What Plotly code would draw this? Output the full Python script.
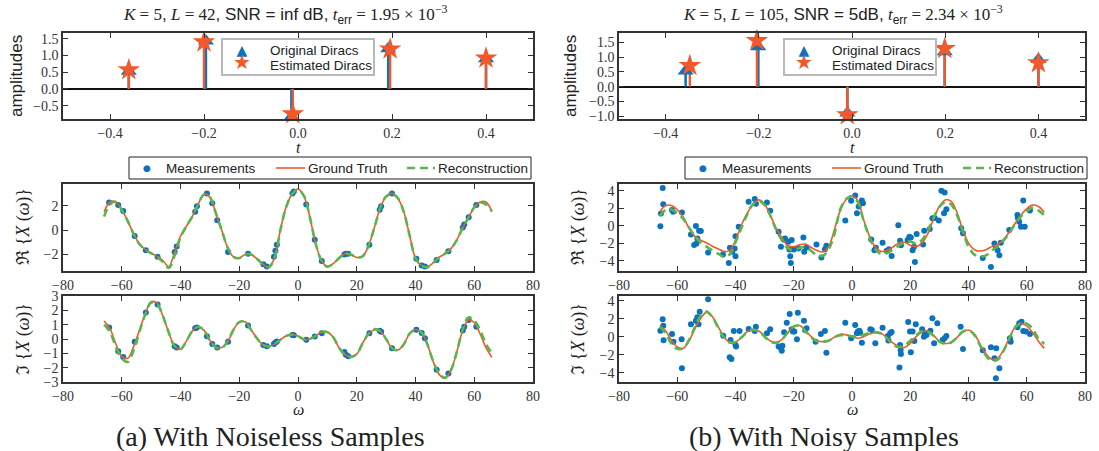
import plotly.graph_objects as go

W, H = 1099, 451
BLUE = '#0b72bd'
ORANGE = '#f2592a'
GREEN = '#5ab54b'
SERIF = 'Liberation Serif'
SANS = 'Liberation Sans'

# ---------------- Dirac data ----------------
t_orig_a = [-0.360, -0.196, -0.014, 0.192, 0.400]
amp_orig_a = [0.53, 1.43, -0.83, 1.20, 0.90]
t_est_a = [-0.360, -0.200, -0.011, 0.196, 0.400]
amp_est_a = [0.57, 1.40, -0.75, 1.19, 0.92]

t_orig_b = [-0.357, -0.201, -0.010, 0.199, 0.400]
amp_orig_b = [0.53, 1.35, -0.89, 1.18, 0.92]
t_est_b = [-0.348, -0.204, -0.010, 0.199, 0.400]
amp_est_b = [0.71, 1.55, -0.95, 1.28, 0.80]

# ---------------- frequency grid for curves ----------------
w_grid = [-66, -64, -62, -60, -58, -56, -54, -52, -50, -48, -46, -44, -42, -40,
          -38, -36, -34, -32, -30, -28, -26, -24, -22, -20, -18, -16, -14, -12,
          -10, -8, -6, -4, -2, 0, 2, 4, 6, 8, 10, 12, 14, 16, 18, 20, 22, 24, 26,
          28, 30, 32, 34, 36, 38, 40, 42, 44, 46, 48, 50, 52, 54, 56, 58, 60, 62,
          64, 66]

# (a) noiseless
gt_re_a = [1.50, 2.30, 2.30, 1.65, 0.75, -0.30, -1.15, -1.60, -1.90, -2.15, -2.50, -3.00, -1.80, -0.50,
           0.30, 1.10, 2.10, 2.95, 2.70, 1.40, 0.00, -1.40, -2.20, -2.30, -2.00, -2.00, -2.35, -2.80,
           -3.05, -2.30, 0.00, 1.90, 2.95, 3.35, 2.80, 1.10, -1.10, -2.50, -3.00, -2.75, -2.30, -1.95, -2.00, -2.25, -2.15, -1.30, 0.20,
           1.80, 2.75, 3.00, 2.60, 1.50, -0.45, -2.30, -2.90, -3.00, -2.70, -2.25, -1.95, -1.55, -0.85, 0.15, 1.00, 1.85, 2.30,
           2.30, 1.50]
rc_re_a = [1.10, 2.10, 2.30, 1.65, 0.75, -0.30, -1.15, -1.60, -1.90, -2.20, -2.60, -3.10, -2.10, -0.60,
           0.30, 1.10, 2.10, 2.90, 2.70, 1.40, 0.00, -1.40, -2.20, -2.30, -2.00, -2.00, -2.35, -2.80,
           -3.05, -2.30, 0.00, 1.90, 2.95, 3.30, 2.80, 1.10, -1.10, -2.50, -3.00, -2.75, -2.30, -1.95, -2.00, -2.25, -2.15, -1.30, 0.20,
           1.80, 2.75, 2.95, 2.60, 1.50, -0.45, -2.30, -2.90, -3.05, -2.70, -2.25, -1.95, -1.55, -0.85, 0.15, 1.00, 1.85, 2.25,
           2.10, 1.55]
gt_im_a = [1.26, 0.72, -0.35, -1.20, -1.35, -0.55, 0.60, 1.75, 2.60, 2.50, 1.60, 0.45, -0.50, -0.70,
           -0.15, 0.55, 0.85, 0.60, -0.10, -0.55, -0.60, -0.20, 0.63, 1.18, 1.20, 0.65, 0.05, -0.40,
           -0.52, -0.35, -0.05, 0.22, 0.30, 0.21, -0.03, 0.00, 0.22, 0.48, 0.48, 0.12, -0.62, -1.08, -1.25, -1.05, -0.30, 0.35, 0.65,
           0.55, 0.00, -0.65, -0.78, -0.38, 0.38, 0.65, 0.45, -0.35, -1.55, -2.45, -2.75, -2.20, -0.95, 0.55, 1.33, 1.15, 0.35,
           -0.60, -1.28]
rc_im_a = [1.00, 0.50, -0.55, -1.35, -1.60, -0.80, 0.50, 1.70, 2.55, 2.45, 1.60, 0.45, -0.50, -0.72,
           -0.15, 0.55, 0.85, 0.60, -0.10, -0.58, -0.62, -0.20, 0.63, 1.18, 1.20, 0.65, 0.05, -0.40,
           -0.52, -0.35, -0.05, 0.22, 0.30, 0.21, -0.03, 0.00, 0.22, 0.48, 0.48, 0.12, -0.62, -1.08, -1.25, -1.05, -0.30, 0.35, 0.68,
           0.55, 0.00, -0.65, -0.78, -0.38, 0.38, 0.65, 0.45, -0.35, -1.55, -2.40, -2.70, -2.20, -0.95, 0.60, 1.50, 1.30, 0.60,
           -0.35, -1.00]

meas_w_a = [-64.3, -61.2, -59.5, -55.6, -51.8, -47.8, -42.0, -41.3, -35.0, -34.4, -31.0, -29.2, -27.5, -23.8,
            -17.0, -11.8, -10.6, -8.2, -7.7, -7.2, -1.9, -1.4, 2.8, 5.7, 8.1, 15.8, 16.3, 17.1, 24.3, 27.8,
            28.3, 32.0, 40.3, 42.1, 43.2, 47.2, 51.2, 56.1, 56.6, 58.1, 60.7]
meas_re_a = [2.25, 2.05, 1.55, -0.50, -1.65, -2.20, -1.80, -1.35, 1.50, 1.95, 3.00, 2.20, 0.80, -1.80,
             -1.95, -2.80, -3.00, -2.20, -1.70, -1.20, 3.00, 3.15, 2.10, -0.80, -2.55, -2.00, -1.95, -1.95, -1.20, 1.65,
             1.95, 3.00, -2.35, -2.90, -3.00, -2.45, -1.75, 0.20, 0.45, 1.05, 2.05]
meas_im_a = [0.80, -0.85, -1.25, -0.20, 1.85, 2.40, -0.50, -0.60, 0.75, 0.80, 0.20, -0.35, -0.60, -0.20,
             0.95, -0.42, -0.50, -0.35, -0.25, -0.18, 0.28, 0.27, -0.05, 0.18, 0.40, -0.90, -1.10, -1.20, 0.40, 0.57,
             0.50, -0.65, 0.65, 0.42, 0.05, -2.15, -2.40, 0.60, 0.85, 1.33, 0.85]

# (b) noisy
gt_re_b = [1.55, 2.30, 2.30, 1.85, 1.00, -0.25, -1.20, -1.65, -1.95, -2.35, -2.65, -2.95, -2.85, -1.65,
           0.05, 1.40, 2.45, 2.95, 2.45, 1.15, -0.30, -1.40, -2.30, -2.40, -2.20, -2.10, -2.50, -2.85,
           -3.00, -2.40, -0.40, 1.75, 3.00, 3.42, 2.85, 0.65, -1.20, -2.45, -2.95, -2.85, -2.45, -2.00, -1.90, -2.25, -2.40, -2.00, -0.95,
           0.75, 2.20, 2.95, 2.80, 1.55, -0.45, -2.00, -2.75, -2.90, -2.75, -2.40, -2.15, -1.60, -0.75, 0.25, 1.20, 1.95, 2.35,
           2.20, 1.55]
rc_re_b = [1.10, 1.80, 1.85, 1.45, 0.80, -0.20, -1.20, -1.90, -2.40, -2.80, -3.20, -3.55, -3.30, -1.90,
           -0.30, 1.30, 2.45, 2.85, 2.35, 1.10, -0.50, -1.70, -2.60, -2.80, -2.55, -2.45, -2.90, -3.40,
           -3.45, -2.70, -0.90, 1.90, 3.05, 3.35, 2.70, 0.55, -1.30, -2.70, -3.25, -3.15, -2.75, -2.30, -1.90, -1.80, -2.05, -1.65, -0.60,
           0.90, 2.15, 2.70, 2.45, 1.25, -0.60, -2.40, -3.30, -3.55, -3.40, -2.85, -2.35, -1.70, -0.85, 0.20, 1.05, 1.65, 2.05,
           1.75, 1.20]
gt_im_b = [1.22, 0.65, -0.40, -1.15, -1.30, -0.50, 0.85, 2.00, 2.70, 2.25, 1.15, 0.00, -0.60, -0.60,
           -0.10, 0.56, 0.80, 0.63, 0.05, -0.48, -0.63, -0.30, 0.45, 1.10, 1.25, 0.70, 0.00, -0.45,
           -0.55, -0.45, -0.05, 0.27, 0.20, 0.00, -0.17, 0.00, 0.30, 0.45, 0.35, -0.10, -0.70, -1.10, -1.20, -0.75, 0.00, 0.50, 0.62,
           0.15, -0.50, -0.75, -0.65, -0.10, 0.52, 0.74, 0.28, -0.85, -1.90, -2.50, -2.40, -1.50, -0.15, 1.05, 1.48, 1.20, 0.45,
           -0.50, -1.30]
rc_im_b = [1.10, 0.40, -0.80, -1.35, -1.30, -0.40, 1.00, 2.30, 2.80, 2.20, 1.05, -0.05, -0.65, -0.60,
           -0.10, 0.50, 0.75, 0.60, 0.00, -0.55, -0.70, -0.30, 0.50, 1.15, 1.20, 0.60, -0.10, -0.50,
           -0.55, -0.45, -0.05, 0.15, 0.15, 0.05, 0.05, 0.20, 0.45, 0.50, 0.35, -0.15, -0.85, -1.15, -1.00, -0.45, 0.15, 0.60, 0.55,
           0.10, -0.55, -0.80, -0.65, -0.10, 0.55, 0.70, 0.20, -1.00, -2.10, -2.70, -2.55, -1.60, -0.20, 1.00, 1.50, 1.45, 0.90,
           -0.20, -0.80]

meas_w_re_b = [-65.8, -65.6, -65.0, -64.8, -61.8, -61.4, -58.4, -55.3, -54.2, -53.6, -53.4, -53.1, -52.5, -51.9,
               -49.4, -44.3, -42.3, -41.9, -41.1, -40.3, -40.0, -40.0, -38.9, -35.5, -33.4, -33.0, -29.2, -28.1,
               -25.2, -24.4, -23.5, -23.0, -21.8, -21.5, -21.2, -21.0, -20.7, -20.0, -18.4, -16.7, -16.4, -15.6,
               -12.2, -10.5, -9.3, -8.8, -2.3, -0.3, 1.1, 1.7, 2.3, 3.4, 3.75, 6.6, 7.7, 8.2, 10.5, 11.9, 12.7,
               13.6, 15.9, 16.5, 16.8, 19.1, 19.7, 20.2, 20.8, 21.3, 21.6, 22.2, 24.4, 24.8, 26.7, 27.6, 28.4,
               29.8, 30.7, 31.6, 31.8, 32.4, 37.5, 38.1, 44.9, 47.7, 48.9, 49.4, 50.0, 50.6, 51.1, 54.0, 56.8,
               57.0, 57.4, 58.0, 58.8, 59.3, 61.1]
meas_re_b = [-0.08, 1.40, 4.30, 2.46, 1.80, 1.60, 1.50, -1.00, -2.20, -0.04, -2.04, -1.46, -0.58, -0.62,
             -3.08, -3.30, -4.27, -2.54, -3.00, -2.60, -3.50, -1.20, -0.12, 2.73, 3.04, 2.50, 2.65, 1.70,
             -0.70, -2.42, -1.58, -1.46, -1.85, -2.73, -3.50, -4.27, -1.65, -2.73, -2.62, -1.35, -3.00, -2.50,
             -2.15, -3.65, -2.70, -2.30, 0.58, 2.85, 3.46, 1.42, 2.19, 2.88, 2.58, -1.58, -2.81, -2.54, -1.96, -2.88, -2.69,
             -3.46, 0.04, -1.73, -2.23, -1.65, -1.27, -1.35, -2.81, -2.42, -4.15, -0.96, -2.15, -0.58, -0.38, 0.85, 0.88,
             0.58, 4.00, 1.42, 3.81, 1.88, -0.31, -0.88, -3.69, -4.73, -2.04, -2.42, -2.81, -3.38, -1.96, -0.50, 1.23,
             0.85, 0.46, -0.12, 2.88, -0.12, 1.73]

meas_w_im_b = [-65.8, -65.0, -64.8, -64.7, -61.8, -61.3, -58.5, -58.4, -55.3, -53.6, -53.1, -52.7, -52.3, -49.4,
               -44.2, -42.0, -41.4, -41.7, -40.6, -40.0, -39.8, -38.6, -35.5, -33.4, -33.0, -29.2, -28.1, -25.2,
               -24.4, -24.1, -23.9, -23.3, -22.4, -21.4, -20.7, -20.3, -19.8, -18.9, -18.6, -16.5, -16.1, -15.6,
               -12.5, -10.7, -9.3, -8.8, -2.3, -0.3, 1.1, 1.7, 2.0, 2.5, 2.8, 3.4, 6.3, 6.8, 8.0, 10.5, 12.3,
               12.5, 13.1, 13.6, 16.3, 16.5, 16.7, 16.8, 19.3, 19.9, 20.2, 20.8, 21.4, 21.9, 24.1, 24.7, 25.0,
               25.6, 26.9, 27.6, 28.2, 29.3, 31.1, 31.8, 32.4, 37.3, 38.1, 44.9, 47.7, 48.9, 49.5, 49.4, 50.6,
               54.2, 54.5, 56.8, 57.4, 58.2, 58.8, 59.7, 61.1]
meas_im_b = [0.67, 1.93, 1.22, -0.41, 0.30, -0.56, -0.30, -3.52, 1.37, 1.78, 2.15, 1.37, 2.78, 4.15,
             0.11, -2.30, -2.48, -0.37, 0.63, -0.93, -1.10, 0.63, 0.85, 0.63, 1.11, 0.37, 0.81, -1.10,
             -1.30, -1.56, -1.00, 0.48, 1.56, 2.52, 0.81, 0.56, 0.56, -0.30, 2.67, 1.78, 0.74, 0.93,
             -0.56, 0.30, 0.63, -1.78, 1.56, -0.19, 1.30, 0.37, 0.56, 0.67, 0.44, -0.67, 0.81, 0.74, -0.74, 1.00, 0.07,
             -0.44, 0.37, 0.52, -3.44, -0.93, -1.48, -1.93, 1.63, 0.56, -1.74, 0.56, -0.48, 1.37, 0.81, 0.00, 0.37,
             0.19, 0.67, 2.04, -0.74, 1.48, -0.37, -0.19, 0.07, 1.11, -1.37, -1.52, -1.19, -2.41, -1.30, -4.63, -3.52,
             -0.19, -0.56, 1.04, 1.48, 1.67, 0.63, 0.56, 0.30]

# legend / label texts
top_legend_labels = ['Original Diracs', 'Estimated Diracs']
mid_legend_labels = ['Measurements', 'Ground Truth', 'Reconstruction']

# ---------------- helpers ----------------
def stems(ts, amps):
    xs, ys = [], []
    for t, a in zip(ts, amps):
        xs += [t, t, None]
        ys += [0, a, None]
    return xs, ys

def px_x(p):
    return p / W

def px_y(p):
    return 1 - p / H

fig = go.Figure()

panels = [
    dict(xt='x', yt='y', xm='x2', ym='y2', xb='x3', yb='y3',
         to=t_orig_a, ao=amp_orig_a, te=t_est_a, ae=amp_est_a,
         gre=gt_re_a, rre=rc_re_a, gim=gt_im_a, rim=rc_im_a,
         mw_re=meas_w_a, m_re=meas_re_a, mw_im=meas_w_a, m_im=meas_im_a),
    dict(xt='x4', yt='y4', xm='x5', ym='y5', xb='x6', yb='y6',
         to=t_orig_b, ao=amp_orig_b, te=t_est_b, ae=amp_est_b,
         gre=gt_re_b, rre=rc_re_b, gim=gt_im_b, rim=rc_im_b,
         mw_re=meas_w_re_b, m_re=meas_re_b, mw_im=meas_w_im_b, m_im=meas_im_b),
]

for P in panels:
    sx, sy = stems(P['to'], P['ao'])
    fig.add_trace(go.Scatter(x=sx, y=sy, mode='lines', line=dict(color=BLUE, width=2.6),
                             xaxis=P['xt'], yaxis=P['yt'], hoverinfo='skip'))
    sx, sy = stems(P['te'], P['ae'])
    fig.add_trace(go.Scatter(x=sx, y=sy, mode='lines', line=dict(color=ORANGE, width=2.4),
                             xaxis=P['xt'], yaxis=P['yt'], hoverinfo='skip'))
    fig.add_trace(go.Scatter(x=P['to'], y=P['ao'], mode='markers', name=top_legend_labels[0],
                             marker=dict(symbol='triangle-up', size=14, color=BLUE, line=dict(width=0)),
                             xaxis=P['xt'], yaxis=P['yt'], cliponaxis=False))
    fig.add_trace(go.Scatter(x=P['te'], y=P['ae'], mode='markers', name=top_legend_labels[1],
                             marker=dict(symbol='star', size=17, color=ORANGE, line=dict(width=0)),
                             xaxis=P['xt'], yaxis=P['yt'], cliponaxis=False))

    fig.add_trace(go.Scatter(x=P['mw_re'], y=P['m_re'], mode='markers', name=mid_legend_labels[0],
                             marker=dict(size=6, color=BLUE), xaxis=P['xm'], yaxis=P['ym']))
    fig.add_trace(go.Scatter(x=w_grid, y=P['gre'], mode='lines', name=mid_legend_labels[1], line_shape='spline',
                             line=dict(color=ORANGE, width=1.6), xaxis=P['xm'], yaxis=P['ym']))
    fig.add_trace(go.Scatter(x=w_grid, y=P['rre'], mode='lines', name=mid_legend_labels[2], line_shape='spline',
                             line=dict(color=GREEN, width=2.6, dash='8px,5px'), xaxis=P['xm'], yaxis=P['ym']))
    fig.add_trace(go.Scatter(x=P['mw_im'], y=P['m_im'], mode='markers',
                             marker=dict(size=6, color=BLUE), xaxis=P['xb'], yaxis=P['yb']))
    fig.add_trace(go.Scatter(x=w_grid, y=P['gim'], mode='lines', line_shape='spline',
                             line=dict(color=ORANGE, width=1.6), xaxis=P['xb'], yaxis=P['yb']))
    fig.add_trace(go.Scatter(x=w_grid, y=P['rim'], mode='lines', line_shape='spline',
                             line=dict(color=GREEN, width=2.6, dash='8px,5px'), xaxis=P['xb'], yaxis=P['yb']))

# ---------------- axes ----------------
tickfont = dict(family=SERIF, size=14, color='#333')
frame = dict(showline=True, linecolor='#333', linewidth=1.6, mirror='ticks', ticks='inside',
             ticklen=5, tickwidth=1.2, tickcolor='#333', showgrid=False, zeroline=False,
             tickfont=tickfont, automargin=False)

xl = [px_x(63), px_x(533)]
xr = [px_x(619), px_x(1085)]
y_top = [px_y(119), px_y(33)]
y_mid = [px_y(271), px_y(184)]
y_bot = [px_y(382), px_y(296)]

W_TICKS = [-80, -60, -40, -20, 0, 20, 40, 60, 80]
T_TICKS = [-0.4, -0.2, 0, 0.2, 0.4]

layout_axes = {}
for i, (dom, yd, xrng, yrng, xt, yt, top) in enumerate([
    (xl, y_top, [-0.5, 0.5], [-0.9, 1.67], T_TICKS, [-0.5, 0, 0.5, 1.0, 1.5], True),
    (xl, y_mid, [-80, 80], [-3.36, 3.77], W_TICKS, [-2, 0, 2], False),
    (xl, y_bot, [-80, 80], [-3, 3], W_TICKS, [-3, -2, -1, 0, 1, 2, 3], False),
    (xr, y_top, [-0.5, 0.5], [-1.09, 1.81], T_TICKS, [-1.0, -0.5, 0, 0.5, 1.0, 1.5], True),
    (xr, y_mid, [-80, 80], [-5.19, 4.77], W_TICKS, [-4, -2, 0, 2, 4], False),
    (xr, y_bot, [-80, 80], [-5.04, 4.52], W_TICKS, [-4, -2, 0, 2, 4], False),
], start=1):
    xname = 'xaxis' if i == 1 else f'xaxis{i}'
    yname = 'yaxis' if i == 1 else f'yaxis{i}'
    xid = 'x' if i == 1 else f'x{i}'
    yid = 'y' if i == 1 else f'y{i}'
    ytxt = [f'{v:.1f}' for v in yt] if top else [str(v) for v in yt]
    xtxt = [f'{v:.1f}' for v in xt] if top else [str(v) for v in xt]
    xtxt = [s.replace('-', '\u2212') for s in xtxt]
    ytxt = [s.replace('-', '\u2212') for s in ytxt]
    layout_axes[xname] = dict(frame, domain=dom, anchor=yid, range=xrng, tickvals=xt, ticktext=xtxt)
    layout_axes[yname] = dict(frame, domain=yd, anchor=xid, range=yrng, tickvals=yt, ticktext=ytxt,
                              zeroline=top, zerolinecolor='#111', zerolinewidth=1.5)

fig.update_layout(**layout_axes)

# ---------------- text & legends ----------------
ann = []
shapes = []

def add_text(text, x, y, size, family=SERIF, angle=0, color='#222', xanchor='center'):
    ann.append(dict(text=text, x=px_x(x), y=px_y(y), xref='paper', yref='paper', showarrow=False,
                    xanchor=xanchor, yanchor='middle', textangle=angle,
                    font=dict(family=family, size=size, color=color)))

def add_box(x0, y0, x1, y1, color, width):
    shapes.append(dict(type='rect', xref='paper', yref='paper', layer='above',
                       x0=px_x(x0), x1=px_x(x1), y0=px_y(y1), y1=px_y(y0),
                       fillcolor='white', line=dict(color=color, width=width)))

def add_seg(x0, x1, y, color, width, dash='solid'):
    shapes.append(dict(type='line', xref='paper', yref='paper', layer='above',
                       x0=px_x(x0), x1=px_x(x1), y0=px_y(y), y1=px_y(y),
                       line=dict(color=color, width=width, dash=dash)))

# top legends (custom so the box is as compact as the reference)
sym_stack = (f'<span style="color:{BLUE};font-size:14px">▲</span><br>'
             f'<span style="color:{ORANGE};font-size:20px">★</span>')
for bx in (222, 784):
    add_box(bx, 39, bx + 152, 75, '#b8b8b8', 2)
    add_text(sym_stack, bx + 20, 58, 11, family='DejaVu Sans')
    add_text(top_legend_labels[0], bx + 46, 51, 13.5, family=SANS, xanchor='left')
    add_text(top_legend_labels[1], bx + 46, 65, 13.5, family=SANS, xanchor='left')

# middle legends
for bx in (129, 685):
    add_box(bx, 157, bx + 402, 179, '#222', 1)
    add_text('●', bx + 18, 168, 9, family='DejaVu Sans', color=BLUE)
    add_text(mid_legend_labels[0], bx + 35, 168, 13.5, family=SANS, xanchor='left')
    add_seg(bx + 147, bx + 176, 168, ORANGE, 1.6)
    add_text(mid_legend_labels[1], bx + 177, 168, 13.5, family=SANS, xanchor='left')
    add_seg(bx + 278, bx + 306, 168, GREEN, 2.6, dash='8px,5px')
    add_text(mid_legend_labels[2], bx + 307, 168, 13.5, family=SANS, xanchor='left')

sans_span = f'<span style="font-family:{SANS}">'
title_a = (f'<i>K</i> = 5{sans_span},</span> <i>L</i> = 42{sans_span}, SNR = inf dB,</span> '
           f'<i>t</i><sub>{sans_span}err</span></sub> = 1.95 × 10<sup>−3</sup>')
title_b = (f'<i>K</i> = 5{sans_span},</span> <i>L</i> = 105{sans_span}, SNR = 5dB,</span> '
           f'<i>t</i><sub>{sans_span}err</span></sub> = 2.34 × 10<sup>−3</sup>')
add_text(title_a, 285, 15, 17)
add_text(title_b, 843, 15, 17)

for cx in (298, 852):
    add_text('<i>t</i>', cx, 147, 16)
    add_text('<i>ω</i>', cx, 409, 16)
for cx in (17, 571):
    add_text('amplitudes', cx, 76, 17, family=SANS, angle=-90)
for cx in (23, 578):
    add_text('ℜ {<i>X</i> (<i>ω</i>)}', cx, 227, 18, angle=-90)
    add_text('ℑ {<i>X</i> (<i>ω</i>)}', cx, 339, 18, angle=-90)

add_text('(a) With Noiseless Samples', 270, 436, 28)
add_text('(b) With Noisy Samples', 824, 436, 28)

fig.update_layout(annotations=ann, shapes=shapes, width=W, height=H,
                  margin=dict(l=0, r=0, t=0, b=0, autoexpand=False),
                  paper_bgcolor='white', plot_bgcolor='white', showlegend=False)

fig.write_html('out.html')
